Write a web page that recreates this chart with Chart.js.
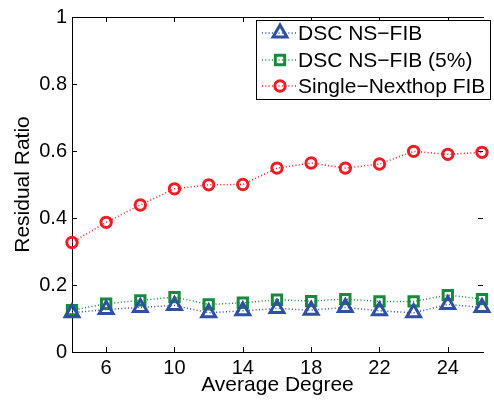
<!DOCTYPE html>
<html>
<head>
<meta charset="utf-8">
<script src="https://cdn.jsdelivr.net/npm/chart.js"></script>
<style>
  html, body { margin: 0; padding: 0; background: #fff; overflow: hidden; }
</style>
</head>
<body>
<canvas id="grafica" width="494" height="400"></canvas>
<script>
// point positions along the x axis (evenly spaced)
const xPos = [0, 1, 2, 3, 4, 5, 6, 7, 8, 9, 10, 11, 12];
const xTickPos = [1, 3, 5, 7, 9, 11];
const xTickLabels = ["6", "10", "14", "18", "22", "24"];

const nsFib = [0.117, 0.127, 0.133, 0.139, 0.117, 0.123, 0.130, 0.125, 0.133, 0.123, 0.117, 0.142, 0.133];
const nsFib5 = [0.125, 0.144, 0.154, 0.164, 0.142, 0.147, 0.156, 0.152, 0.158, 0.151, 0.151, 0.170, 0.158];
const singleFib = [0.327, 0.387, 0.439, 0.487, 0.499, 0.500, 0.549, 0.564, 0.549, 0.561, 0.599, 0.590, 0.596];

const FONT = "'Liberation Sans', Arial, Helvetica, sans-serif";
const BLUE = "#2f4fa2";
const GREEN = "#178a3e";
const RED = "#ee1d25";

function serie(label, values, color, style, radius) {
    return {
        label: label,
        data: values.map((v, i) => ({ x: xPos[i], y: v })),
        borderColor: color,
        backgroundColor: "transparent",
        borderWidth: 1.5,
        borderDash: [1, 2.3],
        pointStyle: style,
        pointRadius: radius,
        pointBorderWidth: 3,
        pointBorderColor: color,
        pointBackgroundColor: "transparent",
        tension: 0,
        clip: false
    };
}

// frame with inward tick marks, drawn under the data
const marco = {
    id: "marco",
    beforeDatasetsDraw(chart) {
        const { ctx, chartArea: a, scales } = chart;
        ctx.save();
        ctx.strokeStyle = "#000";
        ctx.lineWidth = 1;
        ctx.beginPath();
        ctx.moveTo(a.right + 1, a.top + 0.5);
        ctx.lineTo(a.left + 0.5, a.top + 0.5);
        ctx.lineTo(a.left + 0.5, a.bottom + 0.5);
        ctx.lineTo(a.right + 1, a.bottom + 0.5);
        scales.x.ticks.forEach(t => {
            const px = Math.round(scales.x.getPixelForValue(t.value)) + 0.5;
            ctx.moveTo(px, a.bottom);
            ctx.lineTo(px, a.bottom - 5);
            ctx.moveTo(px, a.top);
            ctx.lineTo(px, a.top + 5);
        });
        scales.y.ticks.forEach(t => {
            const py = Math.round(scales.y.getPixelForValue(t.value)) + 0.5;
            ctx.moveTo(a.left, py);
            ctx.lineTo(a.left + 5, py);
            ctx.moveTo(a.right, py);
            ctx.lineTo(a.right - 5, py);
        });
        ctx.stroke();
        ctx.restore();
    }
};

// legend box inside the plot, top right
const leyenda = {
    id: "leyenda",
    afterDraw(chart) {
        const ctx = chart.ctx;
        const bx = 256, by = 20, bw = 234, bh = 79;
        const rows = [33, 60, 86];
        ctx.save();
        ctx.fillStyle = "#fff";
        ctx.fillRect(bx, by, bw, bh);
        ctx.strokeStyle = "#000";
        ctx.lineWidth = 1;
        ctx.strokeRect(bx + 0.5, by + 0.5, bw, bh);
        chart.data.datasets.forEach((ds, i) => {
            const y = rows[i];
            ctx.strokeStyle = ds.borderColor;
            ctx.lineWidth = ds.borderWidth;
            ctx.setLineDash(ds.borderDash);
            ctx.beginPath();
            ctx.moveTo(262, y);
            ctx.lineTo(297, y);
            ctx.stroke();
            ctx.setLineDash([]);
            ctx.lineWidth = ds.pointBorderWidth;
            ctx.fillStyle = "transparent";
            Chart.helpers.drawPoint(ctx, {
                pointStyle: ds.pointStyle,
                radius: ds.pointRadius,
                rotation: 0,
                borderWidth: ds.pointBorderWidth
            }, 280, y);
            ctx.fillStyle = "#000";
            ctx.font = "21px " + FONT;
            ctx.textBaseline = "middle";
            ctx.textAlign = "left";
            ctx.fillText(ds.label, 298, y + 1);
        });
        ctx.restore();
    }
};

new Chart(document.getElementById("grafica").getContext("2d"), {
    type: "line",
    data: {
        datasets: [
            serie("DSC NS\u2212FIB", nsFib, BLUE, "triangle", 8),
            serie("DSC NS\u2212FIB (5%)", nsFib5, GREEN, "rect", 6.6),
            serie("Single\u2212Nexthop FIB", singleFib, RED, "circle", 5.2)
        ]
    },
    options: {
        responsive: false,
        animation: false,
        layout: { padding: { top: 15, right: 0, left: 0, bottom: 0 } },
        plugins: { legend: { display: false }, tooltip: { enabled: false } },
        scales: {
            x: {
                type: "linear",
                min: 0,
                max: 12.03,
                afterBuildTicks: s => { s.ticks = xTickPos.map(v => ({ value: v })); },
                afterFit: s => { s.height = 48; },
                grid: { display: false, drawTicks: false },
                border: { display: false },
                ticks: {
                    padding: 4,
                    maxRotation: 0,
                    color: "#000",
                    font: { family: FONT, size: 20 },
                    callback: v => xTickLabels[xTickPos.indexOf(v)]
                },
                title: {
                    display: true,
                    text: "Average Degree",
                    color: "#000",
                    font: { family: FONT, size: 21 },
                    padding: { top: 0, bottom: 2 }
                }
            },
            y: {
                min: 0,
                max: 1,
                afterFit: s => { s.width = 72; },
                grid: { display: false, drawTicks: false },
                border: { display: false },
                ticks: {
                    stepSize: 0.2,
                    padding: 5,
                    color: "#000",
                    font: { family: FONT, size: 20 },
                    callback: v => String(+v.toFixed(1))
                },
                title: {
                    display: true,
                    text: "Residual Ratio",
                    color: "#000",
                    font: { family: FONT, size: 21 },
                    padding: { top: 11, bottom: 0 }
                }
            }
        }
    },
    plugins: [marco, leyenda]
});
</script>
</body>
</html>
